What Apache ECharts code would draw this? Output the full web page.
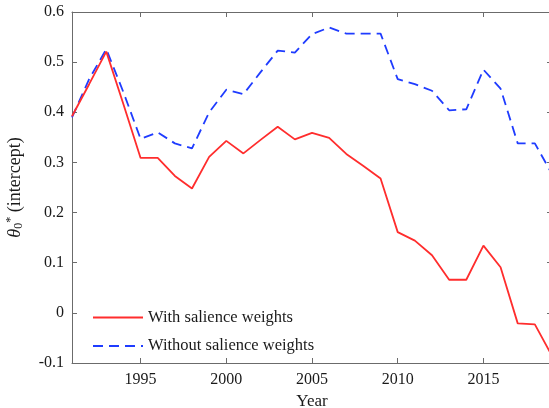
<!DOCTYPE html>
<html>
<head>
<meta charset="utf-8">
<script src="https://cdn.jsdelivr.net/npm/echarts@6/dist/echarts.min.js"></script>
<style>html,body{margin:0;padding:0;background:#fff}#c{width:549px;height:408px}</style>
</head>
<body>
<div id="c"></div>
<script>
const years = [1991,1992,1993,1994,1995,1996,1997,1998,1999,2000,2001,2002,2003,2004,2005,2006,2007,2008,2009,2010,2011,2012,2013,2014,2015,2016,2017,2018,2019];
const withSalience = [0.392,0.456,0.521,0.416,0.309,0.309,0.273,0.248,0.311,0.343,0.318,0.345,0.371,0.346,0.359,0.349,0.317,0.293,0.268,0.161,0.144,0.115,0.066,0.066,0.134,0.091,-0.021,-0.023,-0.086];
const withoutSalience = [0.390,0.466,0.526,0.440,0.347,0.360,0.338,0.328,0.400,0.445,0.436,0.480,0.523,0.519,0.556,0.569,0.557,0.557,0.557,0.466,0.456,0.443,0.404,0.406,0.485,0.447,0.338,0.338,0.277];
const xTicks = [1995,2000,2005,2010,2015];
const yTicks = [-0.1,0,0.1,0.2,0.3,0.4,0.5,0.6];
const seriesNames = ['With salience weights','Without salience weights'];

const FONT = 'Liberation Serif';
const axisCol = '#6b6b6b';
const chart = echarts.init(document.getElementById('c'));
const fmtY = v => String(parseFloat(v.toFixed(1)));
const fmtX = v => String(Math.round(v));
chart.setOption({
  animation: false,
  backgroundColor: '#fff',
  grid: {left: 72, top: 12, width: 480, height: 351, outerBoundsMode: 'none', containLabel: false},
  legend: {
    orient: 'vertical', left: 92, top: 309, padding: 0,
    itemWidth: 50, itemHeight: 14, itemGap: 11.5,
    itemStyle: {opacity: 0},
    textStyle: {fontFamily: FONT, fontSize: 16.5, color: '#1a1a1a'},
    data: seriesNames
  },
  xAxis: [{
    type: 'value', min: years[0], max: years[years.length-1],
    name: 'Year', nameLocation: 'middle', nameGap: 30,
    nameTextStyle: {fontFamily: FONT, fontSize: 17, color: '#1a1a1a'},
    axisLine: {show: true, onZero: false, lineStyle: {color: axisCol, width: 1}},
    axisTick: {show: true, inside: true, length: 5, customValues: xTicks, lineStyle: {color: axisCol}},
    axisLabel: {customValues: xTicks, formatter: fmtX, fontFamily: FONT, fontSize: 16, color: '#1a1a1a', margin: 9},
    splitLine: {show: false}
  },{
    type: 'value', position: 'top', min: years[0], max: years[years.length-1],
    axisLine: {show: true, onZero: false, lineStyle: {color: axisCol, width: 1}},
    axisTick: {show: true, inside: true, length: 5, customValues: xTicks, lineStyle: {color: axisCol}},
    axisLabel: {show: false}, splitLine: {show: false}
  }],
  yAxis: [{
    type: 'value', min: yTicks[0], max: yTicks[yTicks.length-1], interval: 0.1,
    name: '{t|θ}{sb|0}{sp|*}{n| (intercept)}', nameLocation: 'middle', nameRotate: 90, nameGap: 47,
    nameTextStyle: {fontFamily: FONT, fontSize: 18, color: '#1a1a1a',
      rich: {
        t: {fontFamily: FONT, fontStyle: 'italic', fontSize: 18, color: '#1a1a1a'},
        sb: {fontFamily: FONT, fontSize: 12, color: '#1a1a1a', verticalAlign: 'bottom', padding: [6,0,0,0]},
        sp: {fontFamily: FONT, fontSize: 12, color: '#1a1a1a', verticalAlign: 'top', padding: [0,0,8,0]},
        n: {fontFamily: FONT, fontSize: 18, color: '#1a1a1a'}
      }},
    axisLine: {show: true, onZero: false, lineStyle: {color: axisCol, width: 1}},
    axisTick: {show: true, inside: true, length: 5, lineStyle: {color: axisCol}},
    axisLabel: {fontFamily: FONT, fontSize: 16, color: '#1a1a1a', margin: 8, formatter: fmtY},
    splitLine: {show: false}
  },{
    type: 'value', position: 'right', min: yTicks[0], max: yTicks[yTicks.length-1], interval: 0.1,
    axisLine: {show: true, onZero: false, lineStyle: {color: axisCol, width: 1}},
    axisTick: {show: true, inside: true, length: 5, lineStyle: {color: axisCol}},
    axisLabel: {show: false}, splitLine: {show: false}
  }],
  series: [{
    name: seriesNames[0], type: 'line', symbol: 'none', showSymbol: false,
    data: years.map((y,i) => [y, withSalience[i]]),
    lineStyle: {color: '#ff2d2d', width: 1.8}, itemStyle: {color: '#ff2d2d'}, z: 3
  },{
    name: seriesNames[1], type: 'line', symbol: 'none', showSymbol: false,
    data: years.map((y,i) => [y, withoutSalience[i]]),
    lineStyle: {color: '#1f3cff', width: 1.8, type: [10,6]}, itemStyle: {color: '#1f3cff'}, z: 2
  }]
});
</script>
</body>
</html>
